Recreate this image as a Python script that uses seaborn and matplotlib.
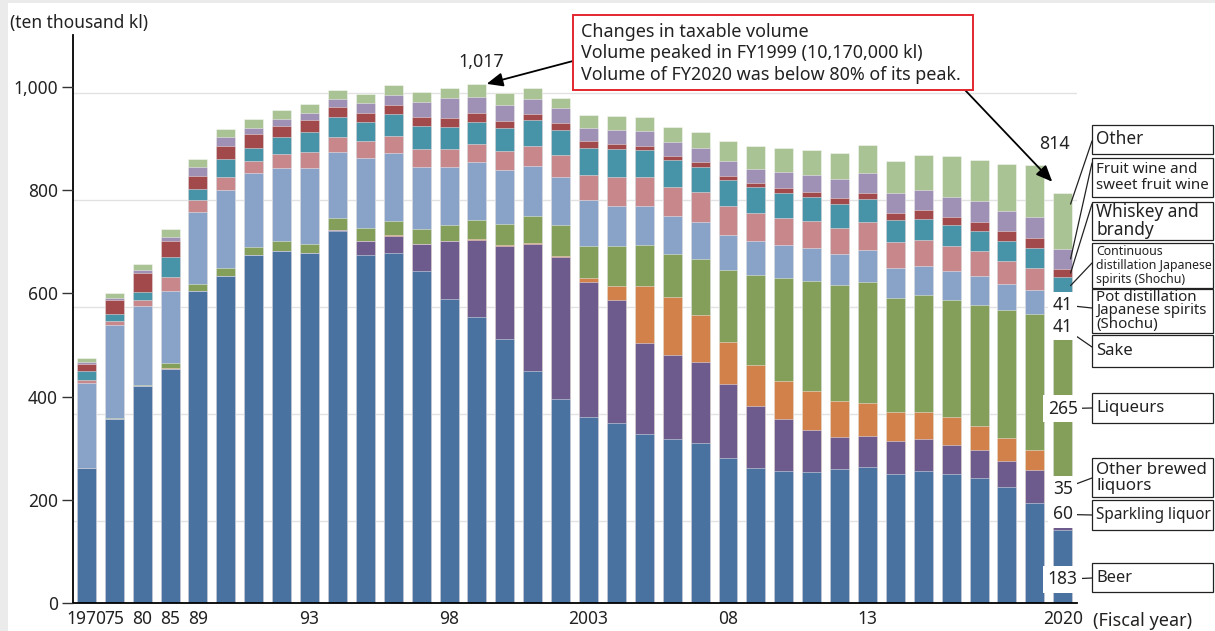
import seaborn as sns
import matplotlib.pyplot as plt
from matplotlib.patches import Rectangle
import numpy as np
import pandas as pd

# Fiscal years shown on the chart
years = [1970, 1975, 1980, 1985] + list(range(1989, 2021))

# Taxable volume by category (ten thousand kl)
beer = [299, 391, 452, 485, 630, 658, 697, 706, 701, 742, 698, 702, 668, 616, 582, 541,
        480, 429, 395, 383, 363, 353, 346, 319, 300, 294, 292, 298, 302, 289, 294, 289,
        281, 265, 234, 183]
sparkling = [0, 0, 0, 0, 0, 0, 0, 0, 0, 3, 25, 32, 50, 108, 143, 174,
             239, 265, 252, 230, 170, 158, 152, 138, 116, 97, 79, 60, 57, 61, 59, 54,
             52, 47, 61, 60]
other_brewed = [0, 0, 0, 1, 0, 0, 0, 0, 0, 0, 1, 2, 0, 0, 2, 2,
                2, 2, 7, 27, 106, 108, 87, 79, 76, 72, 72, 67, 63, 55, 52, 52,
                45, 43, 38, 35]
liqueurs = [1, 2, 3, 9, 14, 16, 15, 18, 18, 21, 24, 26, 29, 29, 37, 39,
            49, 58, 61, 74, 77, 81, 106, 134, 168, 192, 206, 216, 226, 212, 218, 218,
            227, 240, 254, 265]
sake = [158, 173, 148, 136, 135, 145, 139, 136, 142, 125, 131, 126, 116, 110, 108, 101,
        95, 90, 85, 76, 74, 70, 68, 66, 63, 61, 61, 58, 59, 57, 55, 54,
        54, 48, 45, 41]
pot_shochu = [6, 8, 11, 26, 21, 24, 22, 26, 29, 28, 31, 32, 33, 33, 34, 35,
              37, 40, 48, 54, 54, 55, 57, 54, 53, 51, 51, 50, 52, 48, 48, 48,
              46, 43, 42, 41]
cont_shochu = [16, 13, 14, 37, 21, 34, 25, 32, 37, 36, 37, 41, 43, 41, 41, 43,
               48, 48, 50, 52, 50, 50, 47, 48, 48, 47, 45, 45, 43, 41, 39, 38,
               38, 38, 37, 31]
whiskey = [14, 26, 36, 29, 25, 25, 25, 21, 23, 19, 17, 17, 17, 16, 16, 14,
           12, 12, 12, 10, 8, 8, 8, 8, 9, 9, 9, 10, 12, 13, 17, 15,
           16, 18, 18, 16]
fruit_wine = [4, 5, 6, 8, 16, 16, 13, 13, 13, 15, 18, 18, 28, 39, 30, 29,
              27, 28, 25, 25, 27, 26, 26, 27, 26, 29, 32, 36, 37, 37, 37, 39,
              40, 38, 39, 37]
other = [8, 8, 11, 16, 16, 15, 16, 16, 17, 18, 17, 19, 19, 18, 24, 23,
         21, 20, 24, 26, 27, 28, 30, 38, 42, 46, 47, 48, 53, 60, 65, 76,
         77, 87, 98, 105]

categories = ["Beer", "Sparkling liquor", "Other brewed liquors", "Liqueurs", "Sake",
              "Pot distillation Japanese spirits (Shochu)",
              "Continuous distillation Japanese spirits (Shochu)",
              "Whiskey and brandy", "Fruit wine and sweet fruit wine", "Other"]
colors = ["#4a72a1", "#6e5b8e", "#d3814b", "#849f5a", "#89a2c8",
          "#c8888b", "#4793a8", "#a24a4b", "#9f90b5", "#aac394"]

df = pd.DataFrame(dict(zip(categories, [beer, sparkling, other_brewed, liqueurs, sake,
                                        pot_shochu, cont_shochu, whiskey, fruit_wine, other])),
                  index=years)
cum = df.cumsum(axis=1)
totals = df.sum(axis=1)

tick_years = [1970, 1975, 1980, 1985, 1989, 1993, 1998, 2003, 2008, 2013, 2020]
tick_text = ["1970", "75", "80", "85", "89", "93", "98", "2003", "08", "13", "2020"]

# Right-hand label boxes: text, font size, line spacing, box top/bottom (px), leader anchor (px)
box_text = ["Beer", "Sparkling liquor", "Other brewed\nliquors", "Liqueurs", "Sake",
            "Pot distillation\nJapanese spirits\n(Shochu)",
            "Continuous\ndistillation Japanese\nspirits (Shochu)",
            "Whiskey and\nbrandy", "Fruit wine and\nsweet fruit wine", "Other"]
box_font = [11.8, 11.1, 12.2, 12, 12, 10.8, 8.9, 12.4, 10.9, 12.4]
box_ls = [1, 1, 1.0, 1, 1, 0.9, 1.1, 1.0, 1.1, 1]
box_top = [563, 500, 458, 393, 335, 289, 243, 202, 158, 125]
box_bot = [592, 530, 497, 423, 367, 333, 288, 240, 197, 154]
box_anchor = [578, 515, 478, 408, 347, 308, 263, 204, 163, 141]

sns.set_theme(style="white")
plt.rcParams["font.family"] = ["Noto Sans", "DejaVu Sans"]

W, H = 1215, 631
fig = plt.figure(figsize=(W / 100, H / 100), dpi=100)
fig.patch.set_facecolor("#ebebeb")
fig.add_artist(Rectangle((8 / W, 0), 1, 1 - 3 / H, transform=fig.transFigure,
                         facecolor="white", edgecolor="none", zorder=-10))

ax_left, ax_right, ax_bottom, ax_top = 73, 1077, 603.3, 35
ax = fig.add_axes([ax_left / W, 1 - ax_bottom / H, (ax_right - ax_left) / W,
                   (ax_bottom - ax_top) / H])

# bars use 107 px per 200 units with zero 25 px under the drawn axis line
ppu = 107 / 200
ax.set_ylim(25 / ppu, (25 + ax_bottom - ax_top) / ppu)

x = np.arange(len(years))
for name, col in reversed(list(zip(categories, colors))):
    sns.barplot(x=x, y=cum[name].values, color=col, saturation=1, width=0.68,
                errorbar=None, edgecolor=(1, 1, 1, 0.6), linewidth=0.5, ax=ax)

ax.set_xlim(-0.48, len(years) - 0.49)
ax.set_yticks([200, 400, 600, 800, 1000])
ax.tick_params(axis="y", length=0, labelleft=False, labelright=False)
ax.grid(axis="y", color="#e2e2e2", linewidth=1)
ax.set_axisbelow(True)
ax.set_xticks([years.index(y) for y in tick_years])
ax.set_xticklabels(tick_text, fontsize=12.5, color="#222222")
ax.tick_params(axis="x", length=0, pad=5)
ax.set_xlabel("")
ax.set_ylabel("")
for s in ["top", "right"]:
    ax.spines[s].set_visible(False)
for s in ["left", "bottom"]:
    ax.spines[s].set_color("black")
    ax.spines[s].set_linewidth(1.3)

# left tick labels sit on their own scale (103.3 px per 200)
lab = ax.twinx()
lab.set_ylim(0, (ax_bottom - ax_top) / (103.3 / 200))
lab.yaxis.tick_left()
lab.set_yticks([0, 200, 400, 600, 800, 1000])
lab.set_yticklabels(["0", "200", "400", "600", "800", "1,000"], fontsize=12.5, color="#222222")
lab.tick_params(axis="y", direction="out", length=8, width=1, color="#333333", pad=3)
for s in lab.spines.values():
    s.set_visible(False)

fig.text(10 / W, 1 - 23 / H, "(ten thousand kl)", fontsize=12.5, va="center", ha="left",
         color="#222222")
fig.text(1093 / W, 1 - 621 / H, "(Fiscal year)", fontsize=13, va="center", ha="left",
         color="#222222")

# callout
fig.add_artist(Rectangle((573 / W, 1 - 90 / H), 400 / W, 75 / H, transform=fig.transFigure,
                         facecolor="white", edgecolor="#e3262e", linewidth=1.4))
fig.text(581 / W, 1 - 53.5 / H,
         "Changes in taxable volume\nVolume peaked in FY1999 (10,170,000 kl)\n"
         "Volume of FY2020 was below 80% of its peak.",
         fontsize=12.9, va="center", ha="left", linespacing=1.27, color="#222222")

arrow = dict(arrowstyle="-|>,head_length=0.7,head_width=0.3", color="black", lw=1.3,
             mutation_scale=14, shrinkA=0)
i99 = years.index(1999)
i20 = years.index(2020)
ax.annotate("", xy=(i99 + 0.3, totals[1999]), xycoords="data",
            xytext=(573, H - 61), textcoords="figure pixels",
            arrowprops=dict(arrow, shrinkB=1))
ax.annotate(f"{totals[1999]:,}", xy=(i99, totals[1999]), xytext=(3, 16),
            textcoords="offset points", ha="center", va="center", fontsize=12.8,
            color="#222222")
ax.annotate("", xy=(i20, totals[2020]), xycoords="data",
            xytext=(965, H - 90), textcoords="figure pixels",
            arrowprops=dict(arrow, shrinkB=11))
ax.annotate(f"{totals[2020]:,}", xy=(i20, totals[2020]), xytext=(-6, 35),
            textcoords="offset points", ha="center", va="center", fontsize=12.8,
            color="#222222")

# 2020 breakdown: boxes on the right, values on the bar for the lower six
vals20 = df.loc[2020]
for k, name in enumerate(categories):
    top, bot, anc = box_top[k], box_bot[k], box_anchor[k]
    fig.add_artist(Rectangle((1092 / W, 1 - bot / H), 121 / W, (bot - top) / H,
                             transform=fig.transFigure, facecolor="white",
                             edgecolor="#222222", linewidth=0.9))
    fig.text(1096 / W, 1 - (top + bot) / 2 / H, box_text[k], fontsize=box_font[k],
             va="center", ha="left", linespacing=box_ls[k], color="#222222")
    mid = cum.loc[2020, name] - vals20[name] / 2
    if k < 6:
        ax.annotate(f"{vals20[name]:g}", xy=(1092, H - anc), xycoords="figure pixels",
                    xytext=(i20, mid), textcoords="data", ha="center", va="center",
                    fontsize=12.5, color="#222222",
                    bbox=dict(boxstyle="square,pad=0.25", fc="white", ec="none"),
                    arrowprops=dict(arrowstyle="-", color="#222222", lw=0.9,
                                    shrinkA=0, shrinkB=0), annotation_clip=False)
    else:
        frac = 0.8 if name == "Other" else 0.5
        yseg = cum.loc[2020, name] - vals20[name] * (1 - frac)
        ax.annotate("", xy=(1092, H - anc), xycoords="figure pixels",
                    xytext=(i20 + 0.28, yseg), textcoords="data",
                    arrowprops=dict(arrowstyle="-", color="#222222", lw=0.9,
                                    shrinkA=0, shrinkB=0), annotation_clip=False)

fig.savefig("out.png", dpi=100)
